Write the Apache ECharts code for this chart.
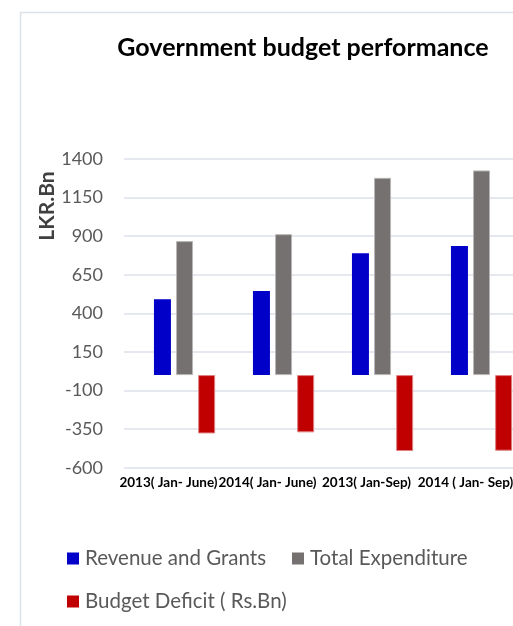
<!DOCTYPE html>
<html><head><meta charset="utf-8">
<script src="https://cdn.jsdelivr.net/npm/echarts@6/dist/echarts.min.js"></script>
<style>html,body{margin:0;padding:0;overflow:hidden;background:#fff;width:513px;height:626px;}#c{width:606px;height:700px;}</style>
</head><body><div id="c"></div>
<script>
const categories = ['2013( Jan- June)', '2014( Jan- June)', '2013( Jan-Sep)', '2014 ( Jan- Sep)'];
const revenueAndGrants = [492, 544, 790, 836];
const totalExpenditure = [868, 913, 1278, 1326];
const budgetDeficit = [-378, -371, -492, -490];
const padSlot = [null, null, null, null];
const yMin = -600, yMax = 1400, yStep = 250;

const chart = echarts.init(document.getElementById('c'), null, {renderer: 'canvas'});
const FONT = 'Lato';
const legendText = {fontFamily: FONT, fontSize: 20.5, color: '#595959', padding: [0, 0, 0, 1]};
chart.setOption({
  animation: false,
  textStyle: {fontFamily: FONT},
  graphic: [
    {type: 'rect', shape: {x: 20.5, y: 12.5, width: 700, height: 800}, style: {fill: 'none', stroke: '#dde1e8', lineWidth: 1.5}, silent: true},
    {type: 'text', x: 303, y: 48, style: {text: 'Government budget performance', font: 'bold 25px Lato', fill: '#000', align: 'center', verticalAlign: 'middle'}},
    {type: 'text', x: 47, y: 206, rotation: Math.PI / 2, style: {text: 'LKR.Bn', font: 'bold 21px Lato', fill: '#404040', align: 'center', verticalAlign: 'middle'}}
  ],
  legend: [
    {data: ['Revenue and Grants', 'Total Expenditure'], left: 67, top: 548, padding: 0, icon: 'rect', itemWidth: 12, itemHeight: 12, itemGap: 26,
     itemStyle: {borderWidth: 0}, textStyle: legendText},
    {data: ['Budget Deficit ( Rs.Bn)'], left: 67, top: 591, padding: 0, icon: 'rect', itemWidth: 12, itemHeight: 12,
     itemStyle: {borderWidth: 0}, textStyle: legendText}
  ],
  grid: {left: 124, top: 159, width: 396, height: 308.7, containLabel: false},
  xAxis: {
    type: 'category', data: categories,
    axisLine: {show: false, onZero: false}, axisTick: {show: false},
    axisLabel: {interval: 0, margin: 8, fontFamily: FONT, fontWeight: 'bold', fontSize: 13.5, color: '#000', padding: [0, 10, 0, 0]}
  },
  yAxis: {
    type: 'value', min: yMin, max: yMax, interval: yStep,
    axisLine: {show: false}, axisTick: {show: false},
    axisLabel: {margin: 21, fontFamily: FONT, fontSize: 18, color: '#595959', formatter: v => String(v)},
    splitLine: {lineStyle: {color: '#dde1e8', width: 1.5}}
  },
  series: [
    {name: 'pad', type: 'bar', data: padSlot, barWidth: 17, barGap: '30%', silent: true},
    {name: 'Revenue and Grants', type: 'bar', data: revenueAndGrants, barWidth: 17, barGap: '30%', itemStyle: {color: '#0000c8'}},
    {name: 'Total Expenditure', type: 'bar', data: totalExpenditure, barWidth: 17, barGap: '30%', itemStyle: {color: '#767171', borderColor: '#b8b6b6', borderWidth: 1}},
    {name: 'Budget Deficit ( Rs.Bn)', type: 'bar', data: budgetDeficit, barWidth: 17, barGap: '30%', itemStyle: {color: '#c00000', borderColor: '#e08080', borderWidth: 1}}
  ]
});
</script></body></html>
